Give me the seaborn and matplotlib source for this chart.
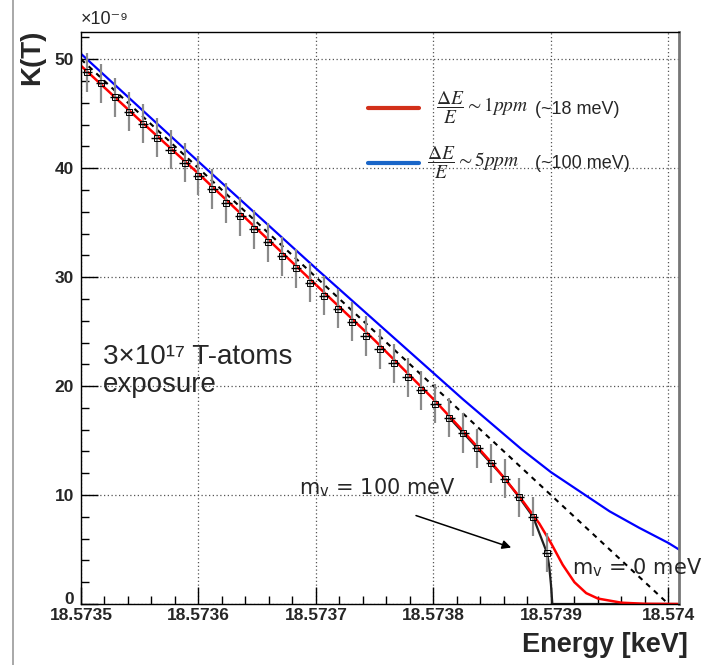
import matplotlib
matplotlib.use("Agg")
import matplotlib.pyplot as plt
import matplotlib.transforms as mtransforms
from matplotlib.lines import Line2D
from matplotlib.ticker import FixedLocator, MultipleLocator
import numpy as np
import pandas as pd
import seaborn as sns

# --- data (K(T) in units of 1e-9, energy in keV) ---
points_x = [18.5735051, 18.5735170, 18.5735289, 18.5735407, 18.5735526, 18.5735644,
            18.5735763, 18.5735882, 18.5736000, 18.5736119, 18.5736238, 18.5736356,
            18.5736475, 18.5736593, 18.5736712, 18.5736831, 18.5736949, 18.5737068,
            18.5737186, 18.5737305, 18.5737424, 18.5737543, 18.5737661, 18.5737780,
            18.5737898, 18.5738017, 18.5738136, 18.5738254, 18.5738373, 18.5738491,
            18.5738610, 18.5738729, 18.5738848, 18.5738966]
points_y = [48.8, 47.8, 46.5, 45.2, 44.1, 42.8, 41.7, 40.5, 39.3, 38.1, 36.8, 35.6,
            34.4, 33.2, 31.9, 30.8, 29.5, 28.3, 27.1, 25.9, 24.6, 23.4, 22.1, 20.8,
            19.6, 18.4, 17.1, 15.7, 14.3, 12.9, 11.5, 9.8, 8.0, 4.7]
points_yerr = 1.8
points_xerr = 0.0000045

# m_nu = 100 meV, no smearing (black solid, visible near the endpoint)
black_x = [18.5738136, 18.5738254, 18.5738373, 18.5738491, 18.5738610, 18.5738729,
           18.5738848, 18.5738966, 18.5738985, 18.5739000, 18.5739008, 18.5739012,
           18.5740090]
black_y = [17.1, 15.7, 14.3, 12.9, 11.5, 9.8, 8.0, 4.7, 3.5, 1.8, 0.6, 0.0, 0.0]

# m_nu = 0 (black dashed)
dashed_x = [18.5735, 18.5740]
dashed_y = [50.0, 0.0]

# 1 ppm resolution (red)
red_x = [18.57350, 18.57355, 18.57360, 18.57365, 18.57370, 18.57375, 18.57380,
         18.573825, 18.57385, 18.573875, 18.57389, 18.57390, 18.57391, 18.57392,
         18.57393, 18.57394, 18.57396, 18.57398, 18.574009]
red_y = [49.4, 44.4, 39.5, 34.4, 29.3, 24.2, 18.8, 15.9, 12.9, 9.6, 7.4, 5.6, 3.6,
         2.0, 1.0, 0.5, 0.12, 0.02, 0.0]

# 5 ppm resolution (blue)
blue_x = [18.57350, 18.57360, 18.57370, 18.57375, 18.57380, 18.573825, 18.57385,
          18.573875, 18.57390, 18.573925, 18.57395, 18.573975, 18.57400, 18.574009]
blue_y = [50.5, 40.6, 30.8, 26.0, 21.2, 18.8, 16.5, 14.2, 12.1, 10.3, 8.5, 7.0, 5.6, 5.0]

x_ticks = [18.5735, 18.5736, 18.5737, 18.5738, 18.5739, 18.5740]
x_ticklabels = ["18.5735", "18.5736", "18.5737", "18.5738", "18.5739", "18.574"]
y_ticks = [0, 10, 20, 30, 40, 50]

legend_math = [r"$\dfrac{\Delta E}{E} \sim 1ppm$", r"$\dfrac{\Delta E}{E} \sim 5ppm$"]
legend_text = ["(~18 meV)", "(~100 meV)"]
legend_colors = ["#d2301a", "#1a66c8"]

sns.set_theme(style="ticks")
plt.rcParams["font.family"] = ["Liberation Sans", "DejaVu Sans"]
plt.rcParams["mathtext.fontset"] = "stix"

W, H = 703, 665
fig = plt.figure(figsize=(W / 100, H / 100), dpi=100)
ax = fig.add_axes([81 / W, 61 / H, 598 / W, 572 / H])

# curves
sns.lineplot(x=black_x, y=black_y, ax=ax, color="#202020", lw=1.6, estimator=None, sort=False)
sns.lineplot(x=dashed_x, y=dashed_y, ax=ax, color="black", lw=1.5, linestyle=(0, (2.5, 2.5)),
             estimator=None)
ax.errorbar(points_x, points_y, yerr=points_yerr, fmt="none", ecolor="#8a8a8a", elinewidth=1.6,
            zorder=3)
sns.lineplot(x=red_x, y=red_y, ax=ax, color="#ff0000", lw=1.8, estimator=None, sort=False)
sns.lineplot(x=blue_x, y=blue_y, ax=ax, color="#0000ff", lw=1.6, estimator=None, sort=False)
ax.errorbar(points_x, points_y, xerr=points_xerr, fmt="s", ms=3.8, mfc="none", mec="black",
            mew=0.7, ecolor="black", elinewidth=1.0, zorder=5)

# axes
ax.set_xlim(18.5735, 18.574009)
ax.set_ylim(0, 52.5)
ax.xaxis.set_major_locator(FixedLocator(x_ticks))
ax.set_xticklabels(x_ticklabels)
ax.xaxis.set_minor_locator(MultipleLocator(0.00002))
ax.yaxis.set_major_locator(FixedLocator(y_ticks))
ax.yaxis.set_minor_locator(MultipleLocator(2))
ax.tick_params(which="major", direction="in", length=12, width=1, color="black",
               labelsize=12.5, top=False, right=False)
ax.tick_params(axis="x", which="major", pad=3)
ax.tick_params(axis="y", which="major", pad=5)
ax.tick_params(which="minor", direction="in", length=6, width=1, color="black",
               top=False, right=False)
for lab in ax.get_xticklabels() + ax.get_yticklabels():
    lab.set_fontweight("bold")
# lift the "0" on the y axis a little, as in the reference
zero_lab = ax.yaxis.get_major_ticks()[0].label1
zero_lab.set_transform(zero_lab.get_transform()
                       + mtransforms.ScaledTranslation(0, 4 / 72, fig.dpi_scale_trans))
ax.grid(True, which="major", color="#555555", linestyle=(0, (1, 2)), lw=0.9)
for s in ["left", "bottom", "top"]:
    ax.spines[s].set_color("black")
    ax.spines[s].set_linewidth(1.0)
ax.spines["right"].set_color("#777777")
ax.spines["right"].set_linewidth(2.0)
ax.set_xlabel("")
ax.set_ylabel("")

fig.text(32 / W, 1 - 57 / H, "K(T)", rotation=90, fontsize=20, fontweight="bold",
         ha="center", va="center")
fig.text(688 / W, 1 - 645 / H, "Energy [keV]", fontsize=19.5, fontweight="bold",
         ha="right", va="center")
fig.text(81 / W, 1 - 20 / H, "×10⁻⁹", fontsize=13, ha="left", va="center")

# annotations
ax.text(18.5735188, 22.7, "3×10¹⁷ T-atoms", fontsize=20, ha="left", va="center")
ax.text(18.5735188, 20.1, "exposure", fontsize=20, ha="left", va="center")
ax.text(18.5736855, 10.7, r"m$_{\mathregular{v}}$ = 100 meV", fontsize=15,
        family="DejaVu Sans", ha="left", va="center")
ax.text(18.573918, 3.3, r"m$_{\mathregular{v}}$ = 0 meV", fontsize=15,
        family="DejaVu Sans", ha="left", va="center")
ax.annotate("", xy=(18.5738684, 5.1), xytext=(18.5737829, 8.2),
            arrowprops=dict(arrowstyle="-|>", color="black", lw=1.1, mutation_scale=13))

# legend (drawn by hand so the fraction can be larger than the plain text)
leg_rows = [108, 163]
leg_math_x = [436, 427]
for row, mx, math, txt, col in zip(leg_rows, leg_math_x, legend_math, legend_text, legend_colors):
    fig.add_artist(Line2D([368 / W, 419 / W], [1 - row / H, 1 - row / H], color=col, lw=3))
    fig.text(mx / W, 1 - row / H, math, fontsize=14, ha="left", va="center")
    fig.text(535 / W, 1 - (row + 1) / H, txt, fontsize=13, ha="left", va="center")

# slide border line on the left
fig.add_artist(Line2D([13 / W, 13 / W], [0, 1], color="#999999", lw=1.2))

fig.savefig("out.png", dpi=100, facecolor="white")
